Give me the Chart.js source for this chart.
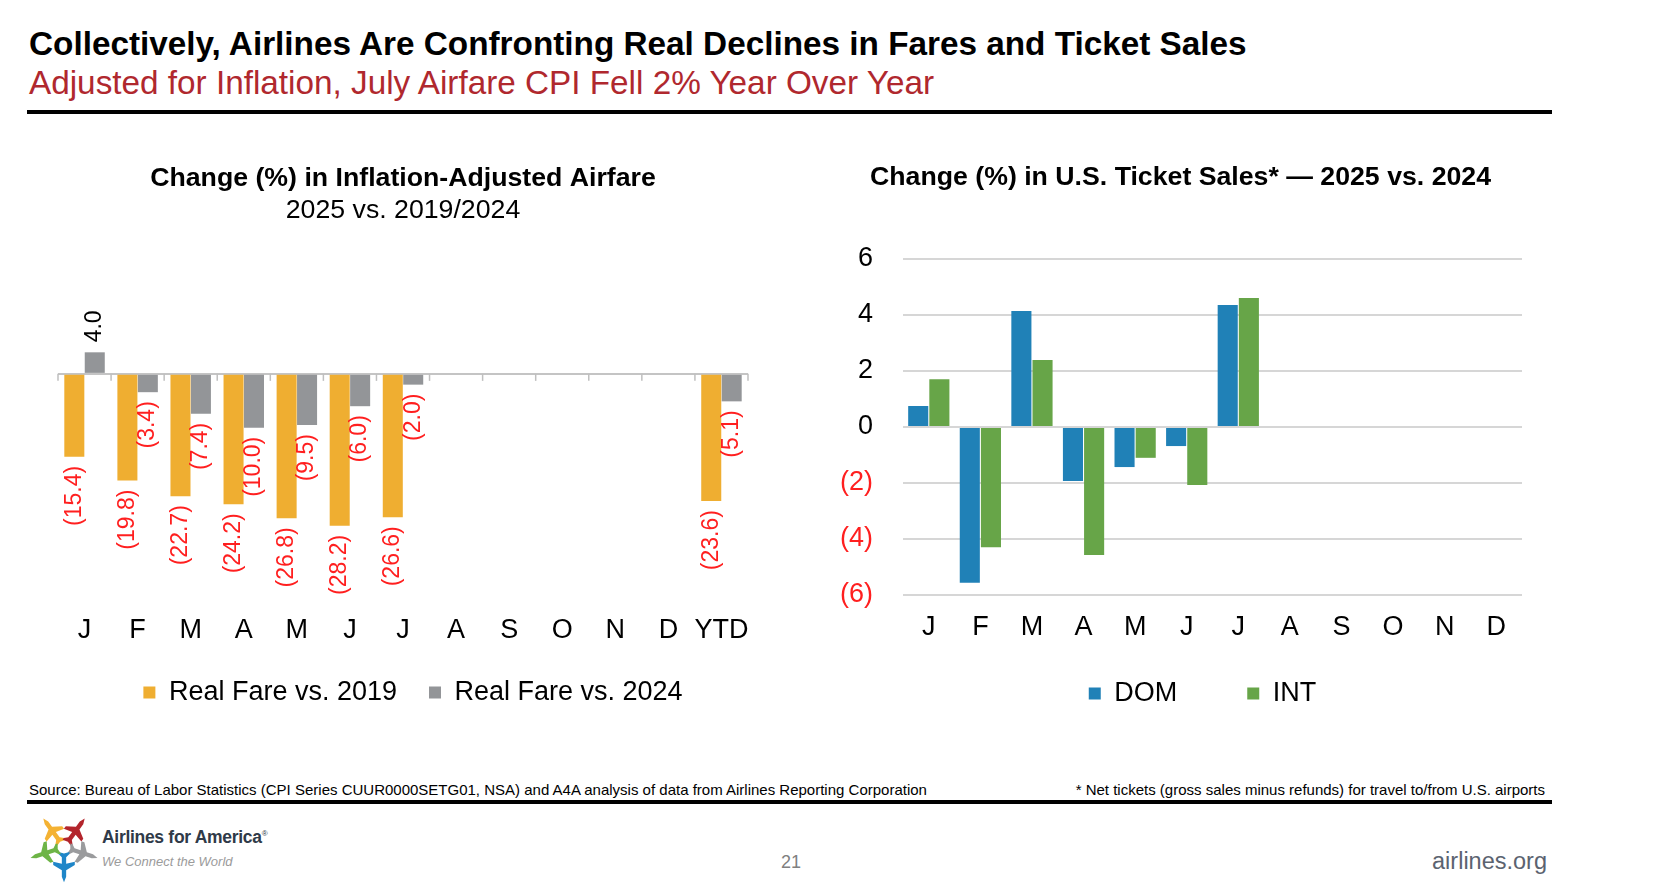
<!DOCTYPE html>
<html>
<head>
<meta charset="utf-8">
<script src="https://cdn.jsdelivr.net/npm/chart.js@4.4.0/dist/chart.umd.min.js"></script>
<style>
  body { margin: 0; width: 1678px; height: 888px; background: #fff; position: relative; overflow: hidden;
         font-family: "Liberation Sans", Arial, sans-serif; }
  .abs { position: absolute; white-space: nowrap; line-height: 1; }
  #title { left: 29px; top: 27px; font-size: 33.3px; font-weight: bold; color: #000; }
  #subtitle { left: 29px; top: 66px; font-size: 33.3px; color: #b0282e; }
  .rule { position: absolute; left: 27px; width: 1525px; height: 4px; background: #000; }
  #source { left: 29px; top: 782px; font-size: 15px; color: #000; }
  #note { right: 133px; top: 782px; font-size: 15px; color: #000; }
  #page { left: 781px; top: 853px; font-size: 18px; color: #808080; }
  #site { right: 131px; top: 850px; font-size: 23.5px; color: #5b6370; }
  #brand { left: 102px; top: 829px; font-size: 17.5px; font-weight: bold; color: #2f3a48; letter-spacing: -0.3px; }
  #brand sup { font-size: 8px; font-weight: normal; }
  #tag { left: 102px; top: 855px; font-size: 13px; font-style: italic; color: #9b9b9b; }
  #logo { position: absolute; left: 28px; top: 809px; }
  canvas { position: absolute; }
  #fareChart { left: 48px; top: 163px; }
  #salesChart { left: 835px; top: 162px; }
</style>
</head>
<body>
<div class="abs" id="title">Collectively, Airlines Are Confronting Real Declines in Fares and Ticket Sales</div>
<div class="abs" id="subtitle">Adjusted for Inflation, July Airfare CPI Fell 2% Year Over Year</div>
<div class="rule" style="top:110px"></div>

<canvas id="fareChart" width="710" height="553"></canvas>
<canvas id="salesChart" width="708" height="586"></canvas>

<div class="abs" id="source">Source: Bureau of Labor Statistics (CPI Series CUUR0000SETG01, NSA) and A4A analysis of data from Airlines Reporting Corporation</div>
<div class="abs" id="note">* Net tickets (gross sales minus refunds) for travel to/from U.S. airports</div>
<div class="rule" style="top:800px"></div>

<svg id="logo" width="72" height="76" viewBox="-36 -38 72 76">
  <g id="plane-defs"></g>
</svg>
<div class="abs" id="brand">Airlines for America<sup>®</sup></div>
<div class="abs" id="tag">We Connect the World</div>
<div class="abs" id="page">21</div>
<div class="abs" id="site">airlines.org</div>

<script>
// left chart: real fare change
const fareMonths = ['J', 'F', 'M', 'A', 'M', 'J', 'J', 'A', 'S', 'O', 'N', 'D', 'YTD'];
const realFareVs2019 = [-15.4, -19.8, -22.7, -24.2, -26.8, -28.2, -26.6, null, null, null, null, null, -23.6];
const realFareVs2024 = [4.0, -3.4, -7.4, -10.0, -9.5, -6.0, -2.0, null, null, null, null, null, -5.1];

// right chart: ticket sales change
const salesMonths = ['J', 'F', 'M', 'A', 'M', 'J', 'J', 'A', 'S', 'O', 'N', 'D'];
const domSales = [0.75, -5.56, 4.14, -1.93, -1.43, -0.68, 4.36, null, null, null, null, null];
const intSales = [1.71, -4.29, 2.39, -4.57, -1.10, -2.07, 4.61, null, null, null, null, null];

const FONT = '"Liberation Sans", Arial, sans-serif';
Chart.defaults.font.family = FONT;
Chart.defaults.color = '#000';

// logo: five little planes around a centre
const planeColors = ['#f4b233', '#b3252c', '#9a9b9d', '#1f86c8', '#6db446'];
const planePath = 'M0,-15 L2,-10 L2,-4 L10,1 L10,4 L2,2 L2,8 L5,11 L5,13 L0,11.5 L-5,13 L-5,11 L-2,8 L-2,2 L-10,4 L-10,1 L-2,-4 L-2,-10 Z';
const logoG = document.getElementById('plane-defs');
planeColors.forEach((c, i) => {
  const ang = -36 + i * 72;
  const p = document.createElementNS('http://www.w3.org/2000/svg', 'path');
  p.setAttribute('d', planePath);
  p.setAttribute('fill', c);
  p.setAttribute('transform', `rotate(${ang}) translate(0,-19) scale(1.08)`);
  logoG.appendChild(p);
});

// rotated value labels at the end of each bar
const barLabels = {
  id: 'barLabels',
  afterDatasetsDraw(chart, args, opts) {
    if (!opts.show) return;
    const ctx = chart.ctx;
    ctx.save();
    ctx.font = `23px ${FONT}`;
    ctx.textBaseline = 'middle';
    chart.data.datasets.forEach((ds, i) => {
      chart.getDatasetMeta(i).data.forEach((bar, j) => {
        const v = ds.data[j];
        if (v == null) return;
        ctx.save();
        if (v < 0) {
          ctx.translate(bar.x, bar.y + 9);
          ctx.rotate(-Math.PI / 2);
          ctx.textAlign = 'right';
          ctx.fillStyle = '#ff1f1f';
          ctx.fillText('(' + Math.abs(v).toFixed(1) + ')', 0, 0);
        } else {
          ctx.translate(bar.x, bar.y - 10);
          ctx.rotate(-Math.PI / 2);
          ctx.textAlign = 'left';
          ctx.fillStyle = '#000';
          ctx.fillText(v.toFixed(1), 0, 0);
        }
        ctx.restore();
      });
    });
    ctx.restore();
  }
};

// small tick marks hanging under the zero line at category boundaries
const zeroTicks = {
  id: 'zeroTicks',
  beforeDatasetsDraw(chart, args, opts) {
    if (!opts.show) return;
    const x = chart.scales.x;
    const y0 = chart.scales.y.getPixelForValue(0);
    const n = chart.data.labels.length;
    const ctx = chart.ctx;
    ctx.save();
    ctx.strokeStyle = '#bfbfbf';
    ctx.lineWidth = 1.5;
    for (let i = 0; i <= n; i++) {
      let px;
      if (i === 0) px = x.left;
      else if (i === n) px = x.right;
      else px = (x.getPixelForValue(i - 1) + x.getPixelForValue(i)) / 2;
      ctx.beginPath();
      ctx.moveTo(px, y0);
      ctx.lineTo(px, y0 + 7);
      ctx.stroke();
    }
    ctx.restore();
  }
};

// nudge the legend box after layout (wide item gaps without the matching space above)
const legendNudge = {
  id: 'legendNudge',
  afterLayout(chart, args, opts) {
    const lg = chart.legend;
    if (!lg) return;
    const dx = opts.dx || 0, dy = opts.dy || 0;
    lg.left += dx; lg.right += dx;
    lg.top += dy; lg.bottom += dy;
  }
};

new Chart(document.getElementById('fareChart'), {
  type: 'bar',
  data: {
    labels: fareMonths,
    datasets: [
      { label: 'Real Fare vs. 2019', data: realFareVs2019, backgroundColor: '#efae31', borderWidth: 0 },
      { label: 'Real Fare vs. 2024', data: realFareVs2024, backgroundColor: '#939598', borderWidth: 0 }
    ]
  },
  options: {
    responsive: false,
    animation: false,
    layout: { padding: { left: 10, right: 10 } },
    datasets: { bar: { categoryPercentage: 0.77, barPercentage: 0.98 } },
    plugins: {
      title: { display: true, text: 'Change (%) in Inflation-Adjusted Airfare',
               font: { size: 26.7, weight: 'bold' }, color: '#000', padding: { top: 0, bottom: 0 } },
      subtitle: { display: true, text: '2025 vs. 2019/2024',
                  font: { size: 26.7 }, color: '#000', padding: { top: 0, bottom: 39 } },
      legend: { position: 'bottom',
                labels: { boxWidth: 12, boxHeight: 12, padding: 32, font: { size: 27 }, color: '#000' } },
      tooltip: { enabled: false },
      barLabels: { show: true },
      zeroTicks: { show: true },
      legendNudge: { dx: 10 }
    },
    scales: {
      x: {
        grid: { display: false, drawTicks: false },
        border: { display: false },
        ticks: { font: { size: 27 }, color: '#000', padding: 3, maxRotation: 0, autoSkip: false },
        afterFit: s => { s.height = 36; }
      },
      y: {
        min: -44, max: 20,
        ticks: { display: false, stepSize: 4 },
        grid: { drawTicks: false, lineWidth: 2,
                color: c => (c.tick && c.tick.value === 0 ? '#c4c4c4' : 'rgba(0,0,0,0)') },
        border: { display: false },
        afterFit: s => { s.width = 0; }
      }
    }
  },
  plugins: [barLabels, zeroTicks, legendNudge]
});

new Chart(document.getElementById('salesChart'), {
  type: 'bar',
  data: {
    labels: salesMonths,
    datasets: [
      { label: 'DOM', data: domSales, backgroundColor: '#2081b7', borderWidth: 0 },
      { label: 'INT', data: intSales, backgroundColor: '#67a548', borderWidth: 0 }
    ]
  },
  options: {
    responsive: false,
    animation: false,
    layout: { padding: { left: 4, right: 21 } },
    datasets: { bar: { categoryPercentage: 0.82, barPercentage: 0.95 } },
    plugins: {
      title: { display: true, text: 'Change (%) in U.S. Ticket Sales* \u2014 2025 vs. 2024',
               font: { size: 26.7, weight: 'bold' }, color: '#000', padding: { top: 0, bottom: 65 } },
      legend: { position: 'bottom', fullSize: false,
                labels: { boxWidth: 12, boxHeight: 12, padding: 70, font: { size: 27 }, color: '#000' } },
      tooltip: { enabled: false },
      legendNudge: { dx: -10, dy: -31 }
    },
    scales: {
      x: {
        grid: { display: false, drawTicks: false },
        border: { display: false },
        ticks: { font: { size: 27 }, color: '#000', padding: 16, maxRotation: 0, autoSkip: false },
        afterFit: s => { s.height = 46; }
      },
      y: {
        min: -6, max: 6,
        ticks: {
          stepSize: 2, padding: 30, font: { size: 27 },
          color: c => (c.tick.value < 0 ? '#ff1f1f' : '#000'),
          callback: v => (v < 0 ? '(' + Math.abs(v) + ')' : String(v))
        },
        grid: { drawTicks: false, color: '#d6d6d6', lineWidth: 2 },
        border: { display: false },
        afterFit: s => { s.width = 64; }
      }
    }
  },
  plugins: [legendNudge]
});
</script>
</body>
</html>
